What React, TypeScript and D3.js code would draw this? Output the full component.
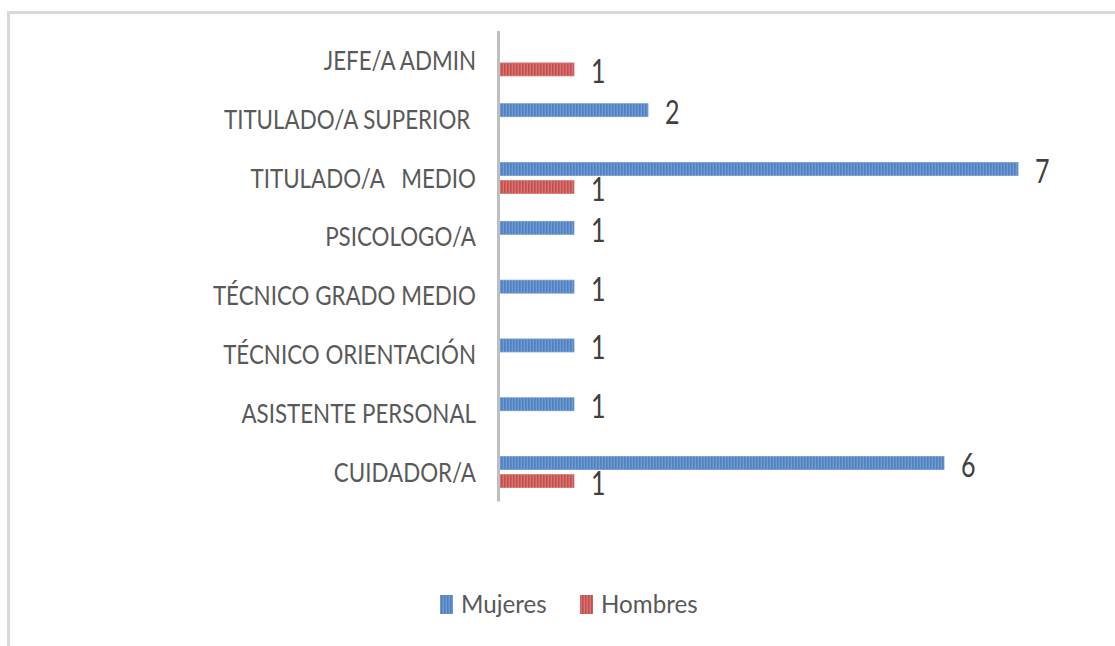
import React from "react";
import * as d3 from "d3";

const categories = [
  "JEFE/A ADMIN",
  "TITULADO/A SUPERIOR ",
  "TITULADO/A   MEDIO",
  "PSICOLOGO/A",
  "TÉCNICO GRADO MEDIO",
  "TÉCNICO ORIENTACIÓN",
  "ASISTENTE PERSONAL",
  "CUIDADOR/A",
];
const seriesNames = ["Mujeres", "Hombres"];
const mujeres: (number | null)[] = [null, 2, 7, 1, 1, 1, 1, 6];
const hombres: (number | null)[] = [1, null, 1, null, null, null, null, 1];
const seriesColors = ["#4f81bd", "#c0504d"];
const seriesLight = ["#6f9ad6", "#d87472"];

const W = 1115;
const H = 646;

export default function App() {
  const y = d3.scaleBand<string>().domain(categories).range([31, 501.5]);
  const inner = d3
    .scaleBand<string>()
    .domain(seriesNames)
    .range([0, y.bandwidth()])
    .paddingInner(0.28)
    .paddingOuter(0.77);
  const x = d3.scaleLinear().domain([0, 7]).range([500, 1018]);
  const values = [mujeres, hombres];
  const textColor = "#595959";
  const catSX = 0.86;
  const legSX = 0.93;
  const valSX = 0.76;

  return (
    <svg
      width={W}
      height={H}
      style={{ position: "absolute", left: 0, top: 0, background: "#fff" }}
      fontFamily="Lato, 'Open Sans', sans-serif"
    >
      <defs>
        {seriesNames.map((s, i) => (
          <pattern
            key={s}
            id={`pat${i}`}
            patternUnits="userSpaceOnUse"
            width={3}
            height={10}
          >
            <rect width={3} height={10} fill={seriesLight[i]} />
            <rect width={1.6} height={10} fill={seriesColors[i]} />
          </pattern>
        ))}
      </defs>
      <rect x={0} y={0} width={W} height={H} fill="#fff" />
      {/* frame */}
      <line x1={7} x2={W} y1={12.5} y2={12.5} stroke="#d9d9d9" strokeWidth={3} />
      <line x1={8.5} x2={8.5} y1={11} y2={H} stroke="#d9d9d9" strokeWidth={3} />

      {/* bars */}
      {categories.map((c, ci) =>
        seriesNames.map((s, si) => {
          const v = values[si][ci];
          if (v == null) return null;
          const y0 = (y(c) as number) + (inner(s) as number);
          const h = inner.bandwidth();
          return (
            <g key={c + s}>
              <rect
                x={x(0)}
                y={y0}
                width={x(v) - x(0)}
                height={h}
                fill={`url(#pat${si})`}
                stroke={seriesLight[si]}
                strokeWidth={0.8}
              />
              <text
                transform={`translate(${x(v) + 17},${y0 + h / 2 + 14}) scale(${valSX},1)`}
                fontSize={33}
                fill="#404040"
              >
                {v}
              </text>
            </g>
          );
        })
      )}

      {/* axis */}
      <line x1={498.5} x2={498.5} y1={31} y2={501.5} stroke="#bfbfbf" strokeWidth={3} />

      {/* category labels */}
      {categories.map((c) => (
        <text
          key={c}
          transform={`translate(476,${(y(c) as number) + y.bandwidth() / 2 + 9.5}) scale(${catSX},1)`}
          textAnchor="end"
          fontSize={26}
          fill={textColor}
          style={{ whiteSpace: "pre" }}
        >
          {c}
        </text>
      ))}

      {/* legend */}
      {seriesNames.map((s, i) => {
        const lx = [440, 580][i];
        return (
          <g key={s}>
            <rect x={lx} y={595} width={13} height={19} fill={`url(#pat${i})`} />
            <text
              transform={`translate(${lx + 21},613) scale(${legSX},1)`}
              fontSize={26}
              fill={textColor}
            >
              {s}
            </text>
          </g>
        );
      })}
    </svg>
  );
}
